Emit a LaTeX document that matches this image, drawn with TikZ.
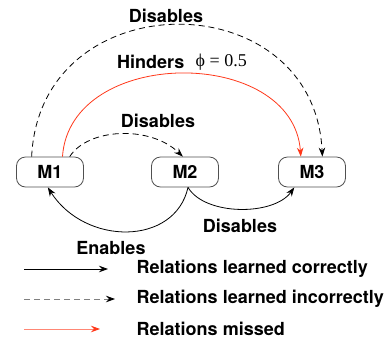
\documentclass[tikz,border=0pt]{standalone}
\usepackage{fontspec}
\setmainfont{TeX Gyre Heros}
\newfontfamily\symfont{Liberation Serif}
\usetikzlibrary{arrows.meta}
\definecolor{missred}{RGB}{255,55,25}
\definecolor{boxgray}{RGB}{80,80,80}

\begin{document}
\begin{tikzpicture}[x=1pt, y=-1pt, line width=0.8pt,
    >={Stealth[length=9pt, width=6.5pt, inset=3pt]},
    module/.style={draw=boxgray, rounded corners=9pt, minimum width=67pt, minimum height=30pt, font=\bfseries\fontsize{18}{21}\selectfont},
    lbl/.style={font=\bfseries\fontsize{18}{21}\selectfont},
    wrong/.style={dash pattern=on 6pt off 4pt}]
  \useasboundingbox (0,0) rectangle (386,341);

  % modules
  \node[module] (m1) at (50,172) {M1};
  \node[module] (m2) at (185,172) {M2};
  \node[module] (m3) at (312,172) {M3};

  % relations
  \draw[->, wrong] (m1.140) .. controls (40,-19) and (314,-19) .. (m3.56);
  \draw[->, missred] (m1.51) .. controls (70,46) and (293,46) .. (m3.126);
  \draw[->, wrong] (m1.38) .. controls (88,128) and (150,125) .. (m2.98);
  \draw[->] (m2.281) .. controls (175,246) and (85,246) .. (m1.262);
  \draw[->] (m2.281) .. controls (205,216) and (274,216) .. (m3.221);

  \node[lbl] (dtop) at (166,16) {Disables};
  \node[lbl, anchor=east] (hind) at (188,62) {Hinders};
  \node[anchor=west, font=\symfont\fontsize{18}{21}\selectfont] (phi) at (192,62) {ϕ = 0.5};
  \node[lbl] (dmid) at (158,121) {Disables};
  \node[lbl] (enab) at (111,248) {Enables};
  \node[lbl] (dbot) at (240,226) {Disables};

  % legend
  \node[lbl, anchor=west] (lc) at (133,269) {Relations learned correctly};
  \node[lbl, anchor=west] (li) at (133,299) {Relations learned incorrectly};
  \node[lbl, anchor=west] (lm) at (133,329) {Relations missed};
  \coordinate (c1) at (24,269);
  \coordinate (c2) at (108,269);
  \coordinate (i1) at (24,299);
  \coordinate (i2) at (115,299);
  \coordinate (r1) at (24,329);
  \coordinate (r2) at (100,329);
  \draw[->] (c1) -- (c2);
  \draw[-{Stealth[length=9pt, width=6.5pt, inset=3pt, color=black]}, wrong, gray] (i1) -- (i2);
  \draw[-{Stealth[length=9pt, width=6.5pt, inset=3pt, color=missred]}, missred!60] (r1) -- (r2);
\end{tikzpicture}
\end{document}
